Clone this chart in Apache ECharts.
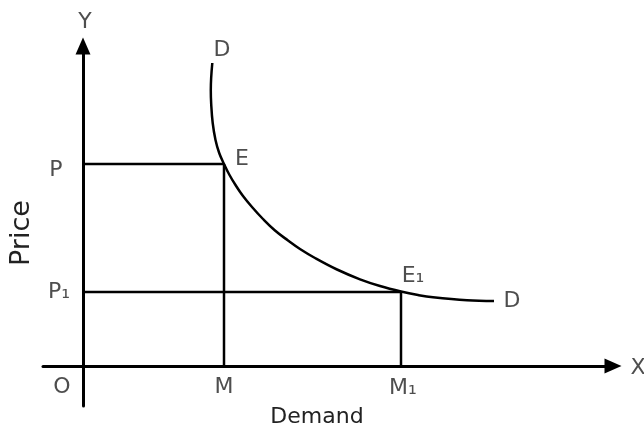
<!DOCTYPE html>
<html>
<head>
<meta charset="utf-8">
<script src="https://cdn.jsdelivr.net/npm/echarts@6/dist/echarts.min.js"></script>
<style>
  html, body { margin: 0; padding: 0; background: #fff; }
  #chart { width: 644px; height: 429px; }
</style>
</head>
<body>
<div id="chart"></div>
<script>
// demand curve D-D (units: demand / price)
const demandX = [12.93, 12.78, 12.82, 12.97, 13.25, 13.62, 14.1, 14.65, 15.25, 16.0, 16.9, 18.0, 19.2, 20.5, 21.7, 23.2, 25.4, 27.7, 29.7, 31.8, 33.5, 35.0, 38.4, 41.1];
const demandY = [30.3, 27.6, 26.2, 24.3, 22.6, 21.3, 20.2, 19.1, 18.1, 17.0, 15.9, 14.7, 13.55, 12.55, 11.7, 10.8, 9.65, 8.67, 8.0, 7.45, 7.1, 6.87, 6.57, 6.5];

// the two equilibrium points E and E1
const qtyM = 14.1, priceP = 20.2;
const qtyM1 = 31.8, priceP1 = 7.4;

// point labels
const labelText = ["Y", "D", "E", "P", "P\u2081", "E\u2081", "D", "X", "O", "M", "M\u2081"];
const labelX = [0.2, 13.9, 15.9, -2.7, -2.4, 33.0, 42.9, 55.5, -2.1, 14.1, 32.0];
const labelY = [34.4, 31.6, 20.7, 19.6, 7.4, 9.0, 6.5, -0.2, -2.1, -2.1, -2.2];

const font = "DejaVu Sans";
const ink = "#000";
const textInk = "#222";

let myChart = echarts.init(document.getElementById("chart"));

let curve = demandX.map((x, i) => [x, demandY[i]]);
let labels = labelText.map((t, i) => ({ name: t, value: [labelX[i], labelY[i]] }));

let option = {
  animation: false,
  backgroundColor: "#fff",
  grid: { left: 43, right: 31, top: 46, bottom: 23, containLabel: false, outerBoundsMode: "none" },
  xAxis: {
    type: "value",
    min: -4,
    max: 53,
    name: "Demand",
    nameLocation: "middle",
    nameGap: 0,
    nameTextStyle: { fontFamily: font, fontSize: 22, color: textInk, padding: [0, 22, 0, 0] },
    axisLine: {
      onZero: true,
      symbol: ["none", "triangle"],
      symbolSize: [15, 17],
      lineStyle: { color: ink, width: 3 }
    },
    axisTick: { show: false },
    axisLabel: { show: false },
    splitLine: { show: false }
  },
  yAxis: {
    type: "value",
    min: -4,
    max: 32,
    name: "Price",
    nameLocation: "middle",
    nameGap: 8,
    nameRotate: 90,
    nameTextStyle: { fontFamily: font, fontSize: 27, color: textInk, padding: [0, 14, 0, 0] },
    axisLine: {
      onZero: true,
      symbol: ["none", "triangle"],
      symbolSize: [15, 17],
      lineStyle: { color: ink, width: 3 }
    },
    axisTick: { show: false },
    axisLabel: { show: false },
    splitLine: { show: false }
  },
  series: [
    {
      // P - E - M
      type: "line",
      data: [[0, priceP], [qtyM, priceP], [qtyM, 0]],
      symbol: "none",
      lineStyle: { color: ink, width: 2.5 },
      z: 3
    },
    {
      // P1 - E1 - M1
      type: "line",
      data: [[0, priceP1], [qtyM1, priceP1], [qtyM1, 0]],
      symbol: "none",
      lineStyle: { color: ink, width: 2.5 },
      z: 3
    },
    {
      name: "Demand curve",
      type: "line",
      data: curve,
      smooth: 0.4,
      symbol: "none",
      lineStyle: { color: ink, width: 2.5 },
      z: 4
    },
    {
      type: "scatter",
      data: labels,
      symbolSize: 0,
      clip: false,
      silent: true,
      label: {
        show: true,
        position: [0, 0],
        align: "center",
        verticalAlign: "middle",
        formatter: p => p.name,
        fontFamily: font,
        fontSize: 22,
        color: textInk
      }
    }
  ]
};
myChart.setOption(option);
</script>
</body>
</html>
